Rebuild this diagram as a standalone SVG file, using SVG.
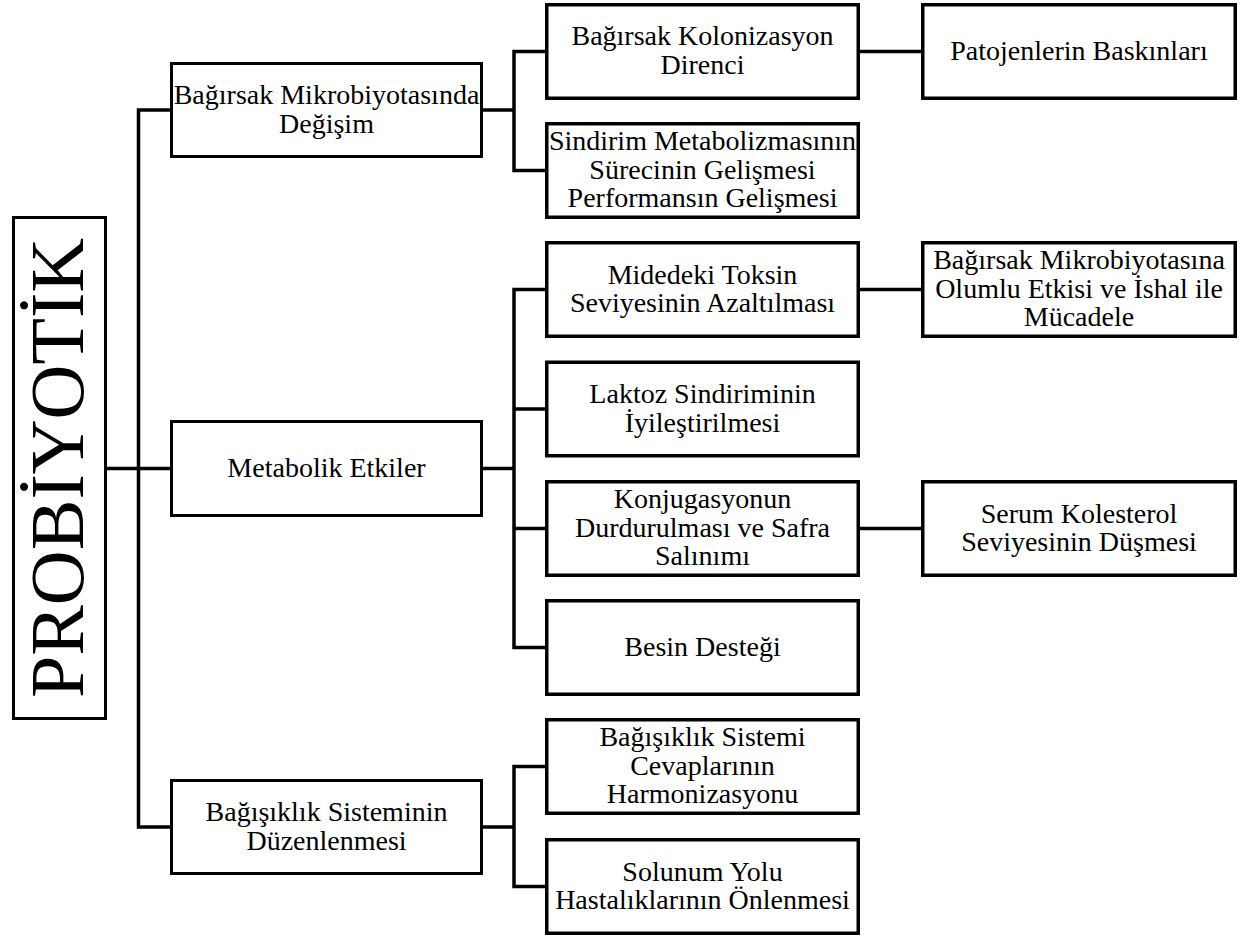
<svg xmlns="http://www.w3.org/2000/svg" width="1254" height="937" viewBox="0 0 1254 937">
<style>
.bg{fill:#fff}
.b1{fill:#fff;stroke:#000;stroke-width:3}
.b2{fill:#fff;stroke:#000;stroke-width:3.5}
.c{fill:none;stroke:#000;stroke-width:3.5;stroke-linejoin:miter}
text{font-family:"Liberation Serif","Times New Roman",serif;font-size:28px;fill:#000;text-anchor:middle}
.root{font-size:76px}
</style>
<rect class="bg" x="0" y="0" width="1254" height="937"/>
<g id="connectors">
<path class="c" d="M107,468.5 H170"/>
<path class="c" d="M170,110 H138.5 V827 H170"/>
<path class="c" d="M483,110 H514"/>
<path class="c" d="M545,51.5 H514 V170.5 H545"/>
<path class="c" d="M483,468.5 H514"/>
<path class="c" d="M545,289.5 H514 V647.5 H545 M514,409 H545 M514,528.5 H545"/>
<path class="c" d="M483,827 H514"/>
<path class="c" d="M545,766.5 H514 V886.5 H545"/>
<path class="c" d="M860,51.5 H921 M860,289.5 H921 M860,528.5 H921"/>
</g>
<g id="root">
<rect class="b1" x="13.5" y="217.5" width="92" height="501"/>
<text class="root" transform="translate(83,468) rotate(-90)" x="0" y="0">PROBİYOTİK</text>
</g>
<g id="n-mikrobiyota">
<rect class="b1" x="171.5" y="63.5" width="310" height="93"/>
<text x="326.5" y="104">Bağırsak Mikrobiyotasında</text>
<text x="326.5" y="132.5">Değişim</text>
</g>
<g id="n-metabolik">
<rect class="b1" x="171.5" y="421.5" width="310" height="94"/>
<text x="326.5" y="476.5">Metabolik Etkiler</text>
</g>
<g id="n-bagisiklik">
<rect class="b1" x="171.5" y="780.5" width="310" height="93"/>
<text x="326.5" y="821">Bağışıklık Sisteminin</text>
<text x="326.5" y="849.5">Düzenlenmesi</text>
</g>
<g id="n-kolonizasyon">
<rect class="b2" x="546.75" y="4.75" width="311.5" height="93.5"/>
<text x="702.5" y="45">Bağırsak Kolonizasyon</text>
<text x="702.5" y="73.5">Direnci</text>
</g>
<g id="n-sindirim">
<rect class="b2" x="546.75" y="123.75" width="311.5" height="93.5"/>
<text x="702.5" y="150">Sindirim Metabolizmasının</text>
<text x="702.5" y="178.5">Sürecinin Gelişmesi</text>
<text x="702.5" y="207">Performansın Gelişmesi</text>
</g>
<g id="n-toksin">
<rect class="b2" x="546.75" y="242.75" width="311.5" height="93.5"/>
<text x="702.5" y="283.5">Midedeki Toksin</text>
<text x="702.5" y="312">Seviyesinin Azaltılması</text>
</g>
<g id="n-laktoz">
<rect class="b2" x="546.75" y="362.25" width="311.5" height="93.5"/>
<text x="702.5" y="403">Laktoz Sindiriminin</text>
<text x="702.5" y="431.5">İyileştirilmesi</text>
</g>
<g id="n-konjugasyon">
<rect class="b2" x="546.75" y="481.75" width="311.5" height="93.5"/>
<text x="702.5" y="508">Konjugasyonun</text>
<text x="702.5" y="536.5">Durdurulması ve Safra</text>
<text x="702.5" y="565">Salınımı</text>
</g>
<g id="n-besin">
<rect class="b2" x="546.75" y="600.75" width="311.5" height="93.5"/>
<text x="702.5" y="655.5">Besin Desteği</text>
</g>
<g id="n-harmonizasyon">
<rect class="b2" x="546.75" y="719.75" width="311.5" height="93.5"/>
<text x="702.5" y="746">Bağışıklık Sistemi</text>
<text x="702.5" y="774.5">Cevaplarının</text>
<text x="702.5" y="803">Harmonizasyonu</text>
</g>
<g id="n-solunum">
<rect class="b2" x="546.75" y="839.75" width="311.5" height="93.5"/>
<text x="702.5" y="880.5">Solunum Yolu</text>
<text x="702.5" y="909">Hastalıklarının Önlenmesi</text>
</g>
<g id="n-patojen">
<rect class="b2" x="922.75" y="4.75" width="312.5" height="93.5"/>
<text x="1079" y="59.5">Patojenlerin Baskınları</text>
</g>
<g id="n-ishal">
<rect class="b2" x="922.75" y="242.75" width="312.5" height="93.5"/>
<text x="1079" y="269">Bağırsak Mikrobiyotasına</text>
<text x="1079" y="297.5">Olumlu Etkisi ve İshal ile</text>
<text x="1079" y="326">Mücadele</text>
</g>
<g id="n-kolesterol">
<rect class="b2" x="922.75" y="481.75" width="312.5" height="93.5"/>
<text x="1079" y="522.5">Serum Kolesterol</text>
<text x="1079" y="551">Seviyesinin Düşmesi</text>
</g>
</svg>
